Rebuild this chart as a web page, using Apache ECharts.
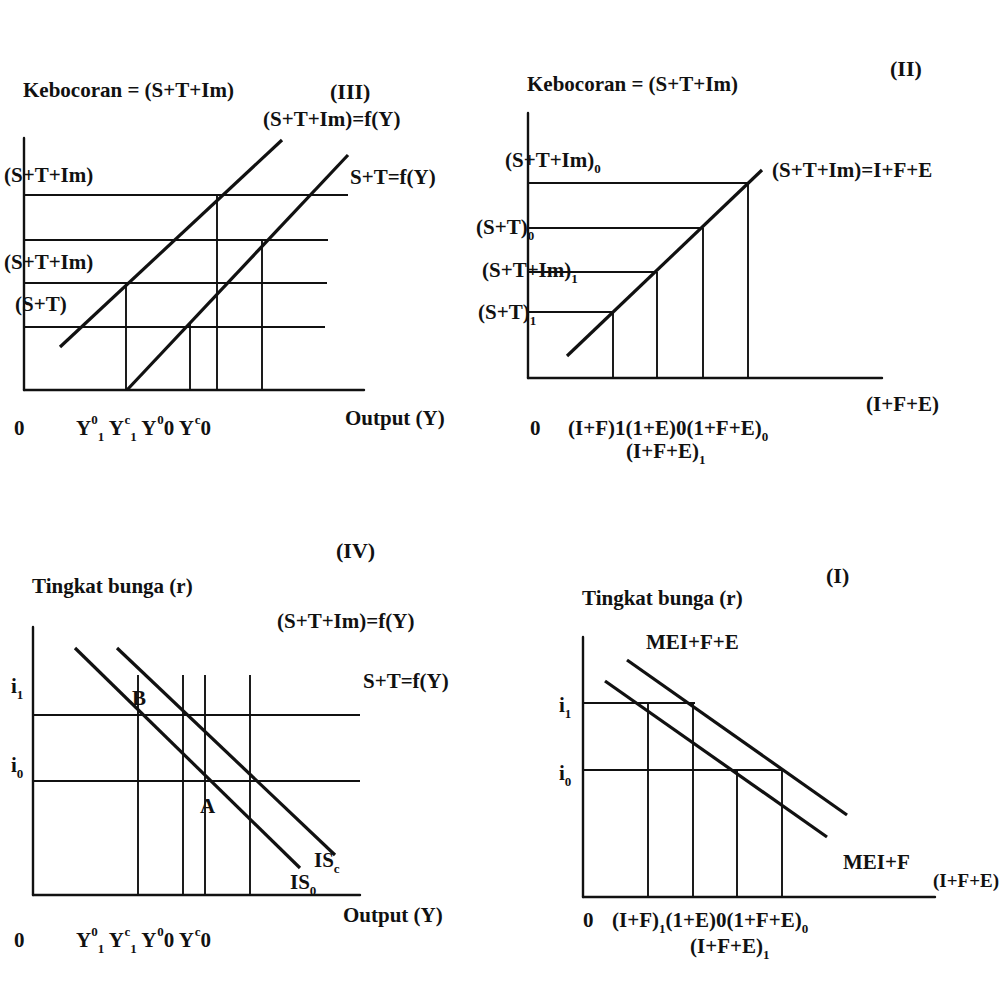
<!DOCTYPE html>
<html>
<head>
<meta charset="utf-8">
<script src="https://cdn.jsdelivr.net/npm/echarts@6/dist/echarts.min.js"></script>
<style>
  html, body { margin: 0; background: #fff; }
  #main { width: 1006px; height: 999px; }
</style>
</head>
<body>
<div id="main"></div>
<script>
// every segment is [x1, y1, x2, y2] in the panel's own units, origin at the axes corner

// (III) leakage vs output
var p3Curves = [[36, 43, 258, 250], [103, 0, 324, 235]];
var p3Levels = [[0, 195, 324, 195], [0, 150, 304, 150], [0, 107, 303, 107], [0, 63, 301, 63]];
var p3Drops = [[102, 0, 102, 107], [166, 0, 166, 66], [193, 0, 193, 195], [238, 0, 238, 150]];

// (II) leakage = I+F+E
var p2Curves = [[39, 22, 234, 208]];
var p2Levels = [[0, 195, 220, 195], [0, 150, 175, 150], [0, 106, 129, 106], [0, 66, 85, 66]];
var p2Drops = [[85, 0, 85, 66], [129, 0, 129, 106], [175, 0, 175, 150], [220, 0, 220, 195]];

// (IV) IS curves
var p4Curves = [[42, 247, 267, 27], [84, 247, 302, 40]];
var p4Levels = [[0, 180, 327, 180], [0, 114, 327, 114]];
var p4Drops = [[105, 0, 105, 220], [150, 0, 150, 220], [172, 0, 172, 220], [217, 0, 217, 220]];

// (I) MEI curves
var p1Curves = [[44, 237, 264, 82], [22, 216, 244, 60]];
var p1Levels = [[0, 194, 112, 194], [0, 127, 200, 127]];
var p1Drops = [[65, 0, 65, 194], [110, 0, 110, 194], [154, 0, 154, 127], [199, 0, 199, 127]];

var panels = [
  { box: [24, 138, 340, 252], curves: p3Curves, guides: p3Levels.concat(p3Drops) },
  { box: [528, 113, 354, 265], curves: p2Curves, guides: p2Levels.concat(p2Drops) },
  { box: [33, 627, 327, 268], curves: p4Curves, guides: p4Levels.concat(p4Drops) },
  { box: [583, 637, 352, 260], curves: p1Curves, guides: p1Levels.concat(p1Drops) }
];

var ink = '#111';
var rich = {
  sub: { fontSize: 13, fontWeight: 'bold', fontFamily: 'Liberation Serif', verticalAlign: 'bottom', lineHeight: 30 },
  sup: { fontSize: 13, fontWeight: 'bold', fontFamily: 'Liberation Serif', verticalAlign: 'top', lineHeight: 30 }
};

// text annotations: [text, x, y, size]
var labels = [
  ['(III)', 330, 91, 22],
  ['Kebocoran = (S+T+Im)', 23, 90, 21],
  ['(S+T+Im)=f(Y)', 263, 119, 21],
  ['S+T=f(Y)', 350, 177, 21],
  ['(S+T+Im)', 4, 175, 21],
  ['(S+T+Im)', 4, 262, 21],
  ['(S+T)', 15, 304, 21],
  ['0', 14, 428, 21],
  ['Y{sup|0}{sub|1} Y{sup|c}{sub|1} Y{sup|0}0 Y{sup|c}0', 76, 428, 21],
  ['Output (Y)', 345, 418, 21],

  ['(II)', 890, 68, 22],
  ['Kebocoran = (S+T+Im)', 527, 84, 21],
  ['(S+T+Im){sub|0}', 505, 160, 21],
  ['(S+T+Im)=I+F+E', 772, 170, 21],
  ['(S+T){sub|0}', 476, 227, 21],
  ['(S+T+Im){sub|1}', 482, 270, 21],
  ['(S+T){sub|1}', 478, 312, 21],
  ['0', 530, 428, 21],
  ['(I+F)1(1+E)0(1+F+E){sub|0}', 568, 428, 21],
  ['(I+F+E){sub|1}', 626, 451, 21],
  ['(I+F+E)', 866, 404, 21],

  ['(IV)', 336, 550, 22],
  ['Tingkat bunga (r)', 32, 586, 21],
  ['(S+T+Im)=f(Y)', 277, 621, 21],
  ['S+T=f(Y)', 363, 681, 21],
  ['i{sub|1}', 11, 686, 21],
  ['i{sub|0}', 11, 765, 21],
  ['B', 132, 698, 21],
  ['A', 200, 806, 21],
  ['IS{sub|0}', 290, 882, 21],
  ['IS{sub|c}', 314, 860, 21],
  ['Output (Y)', 343, 915, 21],
  ['0', 14, 940, 21],
  ['Y{sup|0}{sub|1} Y{sup|c}{sub|1} Y{sup|0}0 Y{sup|c}0', 76, 940, 21],

  ['(I)', 826, 575, 22],
  ['Tingkat bunga (r)', 582, 598, 21],
  ['MEI+F+E', 646, 642, 21],
  ['i{sub|1}', 559, 705, 21],
  ['i{sub|0}', 559, 773, 21],
  ['MEI+F', 843, 862, 21],
  ['(I+F+E)', 933, 880, 19],
  ['0', 583, 920, 21],
  ['(I+F){sub|1}(1+E)0(1+F+E){sub|0}', 612, 920, 21],
  ['(I+F+E){sub|1}', 690, 946, 21]
];

function segData(list) {
  return list.map(function (s) {
    return { coords: [[s[0], s[1]], [s[2], s[3]]] };
  });
}

var grids = [], xAxes = [], yAxes = [], series = [];
panels.forEach(function (p, i) {
  grids.push({ left: p.box[0], top: p.box[1], width: p.box[2], height: p.box[3], show: false });
  var axisBase = {
    type: 'value', gridIndex: i, min: 0,
    axisLine: { show: true, onZero: false, lineStyle: { color: ink, width: 2.4 } },
    axisTick: { show: false }, axisLabel: { show: false }, splitLine: { show: false }
  };
  xAxes.push(Object.assign({}, axisBase, { max: p.box[2] }));
  yAxes.push(Object.assign({}, axisBase, { max: p.box[3] }));
  series.push({
    type: 'lines', coordinateSystem: 'cartesian2d', xAxisIndex: i, yAxisIndex: i,
    silent: true, data: segData(p.guides),
    lineStyle: { color: ink, width: 1.9, opacity: 1 }
  });
  series.push({
    type: 'lines', coordinateSystem: 'cartesian2d', xAxisIndex: i, yAxisIndex: i,
    silent: true, data: segData(p.curves),
    lineStyle: { color: ink, width: 3.2, opacity: 1 }
  });
});

var texts = labels.map(function (l) {
  return {
    type: 'text', x: l[1], y: l[2], silent: true,
    style: {
      text: l[0], fill: ink, verticalAlign: 'middle',
      font: 'bold ' + l[3] + 'px "Liberation Serif", "DejaVu Serif", serif',
      rich: rich
    }
  };
});

var chart = echarts.init(document.getElementById('main'), null, { renderer: 'svg' });
chart.setOption({
  backgroundColor: '#fff',
  animation: false,
  grid: grids,
  xAxis: xAxes,
  yAxis: yAxes,
  series: series,
  graphic: texts
});
</script>
</body>
</html>
